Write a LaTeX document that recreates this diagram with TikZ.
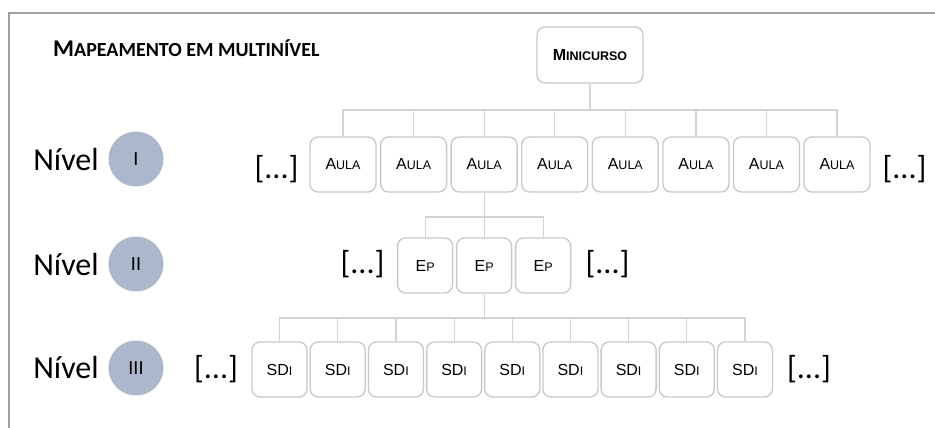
\documentclass[tikz,border=0pt]{standalone}
\usepackage{fontspec}
\setmainfont{Carlito}
\newfontfamily\boxfont{Liberation Sans}
\definecolor{nivelblue}{RGB}{171,183,203}
\definecolor{boxline}{RGB}{200,200,200}
\definecolor{treeline}{RGB}{212,212,212}
\definecolor{frameline}{RGB}{160,160,160}
\newcommand{\smc}[2]{{\fontsize{16}{16}\selectfont #1}{\fontsize{12.5}{12.5}\selectfont #2}}
\tikzset{
  unit/.style={draw=boxline, line width=1.3pt, rounded corners=8pt, fill=white,
    inner sep=0pt, font=\boxfont},
  aula/.style={unit, minimum width=66pt, minimum height=55pt},
  ep/.style={unit, minimum width=55pt, minimum height=55pt},
  sdi/.style={unit, minimum width=55pt, minimum height=55pt},
  nivel/.style={circle, fill=nivelblue, minimum size=55pt, inner sep=0pt,
    font=\fontsize{20}{20}\selectfont},
  nivtext/.style={anchor=base, inner sep=0pt, font=\fontsize{32}{32}\selectfont},
  etc/.style={inner sep=0pt, font=\fontsize{32}{32}\selectfont},
  tree/.style={draw=treeline, line width=1.2pt}
}
\begin{document}
\begin{tikzpicture}[x=1pt,y=-1pt]
\useasboundingbox (0,0) rectangle (935,428);
\draw[frameline, line width=2pt] (935,13) -- (9,13) -- (9,428);

\node[anchor=base west, inner sep=0pt, font=\bfseries] (title) at (53,57)
  {{\fontsize{24}{24}\selectfont M}{\fontsize{20}{20}\selectfont APEAMENTO EM MULTINÍVEL}};

\node[unit, minimum width=106pt, minimum height=56pt, font=\boxfont\bfseries] (m) at (590,55) {\smc{M}{INICURSO}};

\node[aula] (a1) at (343,164.5) {\smc{A}{ULA}};
\node[aula] (a2) at (413.6,164.5) {\smc{A}{ULA}};
\node[aula] (a3) at (484.1,164.5) {\smc{A}{ULA}};
\node[aula] (a4) at (554.7,164.5) {\smc{A}{ULA}};
\node[aula] (a5) at (625.3,164.5) {\smc{A}{ULA}};
\node[aula] (a6) at (695.9,164.5) {\smc{A}{ULA}};
\node[aula] (a7) at (766.4,164.5) {\smc{A}{ULA}};
\node[aula] (a8) at (837,164.5) {\smc{A}{ULA}};

\node[ep] (e1) at (425.1,265.5) {\smc{E}{P}};
\node[ep] (e2) at (484.1,265.5) {\smc{E}{P}};
\node[ep] (e3) at (543.1,265.5) {\smc{E}{P}};

\node[sdi] (s1) at (279.5,369.5) {\smc{SD}{I}};
\node[sdi] (s2) at (337.7,369.5) {\smc{SD}{I}};
\node[sdi] (s3) at (395.9,369.5) {\smc{SD}{I}};
\node[sdi] (s4) at (454.1,369.5) {\smc{SD}{I}};
\node[sdi] (s5) at (512.3,369.5) {\smc{SD}{I}};
\node[sdi] (s6) at (570.4,369.5) {\smc{SD}{I}};
\node[sdi] (s7) at (628.6,369.5) {\smc{SD}{I}};
\node[sdi] (s8) at (686.8,369.5) {\smc{SD}{I}};
\node[sdi] (s9) at (745,369.5) {\smc{SD}{I}};

\coordinate (b1) at (590,110);
\coordinate (b2) at (484.1,217);
\coordinate (b3) at (484.1,318);

\draw[tree] (m) -- (b1);
\draw[tree] (a1.north) |- (b1);
\draw[tree] (a2.north) |- (b1);
\draw[tree] (a3.north) |- (b1);
\draw[tree] (a4.north) |- (b1);
\draw[tree] (a5.north) |- (b1);
\draw[tree] (a6.north) |- (b1);
\draw[tree] (a7.north) |- (b1);
\draw[tree] (a8.north) |- (b1);
\draw[tree] (a3.south) -- (e2.north);
\draw[tree] (e1.north) |- (b2);
\draw[tree] (e3.north) |- (b2);
\draw[tree] (e2.south) -- (b3);
\draw[tree] (s1.north) |- (b3);
\draw[tree] (s2.north) |- (b3);
\draw[tree] (s3.north) |- (b3);
\draw[tree] (s4.north) |- (b3);
\draw[tree] (s5.north) |- (b3);
\draw[tree] (s6.north) |- (b3);
\draw[tree] (s7.north) |- (b3);
\draw[tree] (s8.north) |- (b3);
\draw[tree] (s9.north) |- (b3);

\node[nivtext] (t1) at (66,170) {Nível};
\node[nivtext] (t2) at (66,275) {Nível};
\node[nivtext] (t3) at (66,378) {Nível};
\node[nivel] (c1) at (136,159) {I};
\node[nivel] (c2) at (136,264) {II};
\node[nivel] (c3) at (136,368) {III};

\node[etc] (d1l) at (276.5,169) {[...]};
\node[etc] (d1r) at (904.5,169) {[...]};
\node[etc] (d2l) at (362.5,264) {[...]};
\node[etc] (d2r) at (607.5,264) {[...]};
\node[etc] (d3l) at (216,369) {[...]};
\node[etc] (d3r) at (809,369) {[...]};
\end{tikzpicture}
\end{document}
